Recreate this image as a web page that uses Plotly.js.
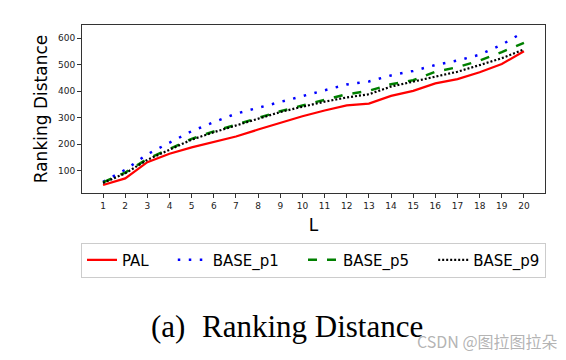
<!DOCTYPE html>
<html>
<head>
<meta charset="utf-8">
<script src="https://cdn.plot.ly/plotly-3.0.1.min.js"></script>
<style>html,body{margin:0;padding:0;background:#fff;}#chart{width:566px;height:360px;}</style>
</head>
<body>
<div id="chart"></div>
<script>
const L = [1,2,3,4,5,6,7,8,9,10,11,12,13,14,15,16,17,18,19,20];
const PAL     = [46,71,132,164,188,208,229,255,280,305,327,346,353,382,401,429,445,471,502,550];
const BASE_p1 = [58,103,162,207,249,283,315,337,359,382,404,425,436,459,476,498,515,537,575,623];
const BASE_p5 = [56,93,144,182,220,248,273,299,324,346,366,388,401,426,441,473,490,515,547,582];
const BASE_p9 = [54,90,141,179,217,245,270,296,321,341,360,376,388,417,435,454,473,498,524,557];
const yTicks = [100,200,300,400,500,600];
const seriesNames = ['PAL','BASE_p1','BASE_p5','BASE_p9'];

const font = "DejaVu Sans, sans-serif";
const pad = '\u00a0\u00a0\u00a0\u00a0';
const traces = [
  {x:L, y:PAL, name:seriesNames[0]+pad, mode:'lines', line:{color:'#ff0000', width:2.2}},
  {x:L, y:BASE_p1, name:seriesNames[1]+pad, mode:'lines', line:{color:'#0000ff', width:2.5, dash:'2.5px,8.5px'}},
  {x:L, y:BASE_p5, name:seriesNames[2]+pad, mode:'lines', line:{color:'#008000', width:2.5, dash:'9px,10px'}},
  {x:L, y:BASE_p9, name:seriesNames[3], mode:'lines', line:{color:'#000000', width:2.2, dash:'2px,2px'}}
];

const layout = {
  width:566, height:360,
  margin:{l:82, r:21, t:25, b:167},
  paper_bgcolor:'#fff', plot_bgcolor:'#fff',
  showlegend:true,
  legend:{orientation:'h', x:0.5, xanchor:'center', y:-0.295, yanchor:'top',
          bordercolor:'#cccccc', borderwidth:1, font:{family:font, size:15, color:'#000'}},
  xaxis:{range:[0.05,20.95], tickvals:L, ticktext:L.map(String), ticks:'outside', ticklen:4,
         tickcolor:'#333', showline:true, linecolor:'#333', mirror:true, showgrid:false, zeroline:false,
         tickfont:{family:font, size:9, color:'#222'},
         title:{text:'L', font:{family:font, size:17, color:'#000'}, standoff:9}},
  yaxis:{range:[16,649], tickvals:yTicks, ticks:'outside', ticklen:4,
         tickcolor:'#333', showline:true, linecolor:'#333', mirror:true, showgrid:false, zeroline:false,
         tickfont:{family:font, size:9, color:'#222'},
         title:{text:'Ranking Distance', font:{family:font, size:17, color:'#000'}, standoff:6}},
  annotations:[
    {text:'(a)', xref:'paper', yref:'paper', x:(168-82)/463, y:(193-326)/168, xanchor:'center', yanchor:'middle',
     showarrow:false, font:{family:'Liberation Serif, serif', size:31, color:'#000'}},
    {text:'Ranking Distance', xref:'paper', yref:'paper', x:(200-82)/463, y:(193-326)/168, xanchor:'left', yanchor:'middle',
     showarrow:false, font:{family:'Liberation Serif, serif', size:31, color:'#000'}},
    {text:'CSDN @图拉图拉朵', xref:'paper', yref:'paper', x:(560-82)/463, y:(193-341)/168, xanchor:'right', yanchor:'middle',
     showarrow:false, font:{family:'Noto Sans CJK SC, sans-serif', size:16, color:'rgba(160,160,160,0.8)'}}
  ]
};
Plotly.newPlot('chart', traces, layout, {displayModeBar:false, staticPlot:true});
</script>
</body>
</html>
